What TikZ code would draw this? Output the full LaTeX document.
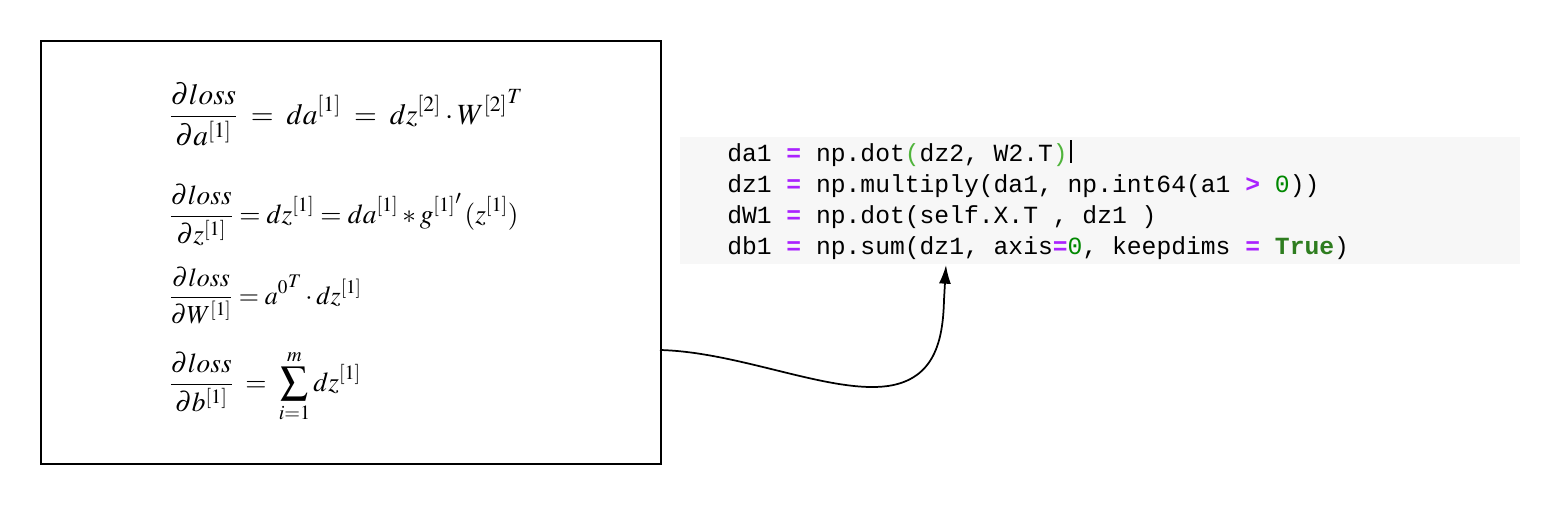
\documentclass[tikz,border=0pt]{standalone}
\usepackage{amsmath}
\usepackage{mathptmx}
\usepackage{fontspec}
\usepackage{tikz}
\usetikzlibrary{arrows.meta}
\newfontfamily\codefont{Liberation Mono}
\definecolor{codegray}{RGB}{247,247,247}
\definecolor{oppurple}{RGB}{170,34,255}
\definecolor{numgreen}{RGB}{0,136,0}
\definecolor{kwgreen}{RGB}{46,125,31}
\definecolor{matchgreen}{RGB}{80,180,60}
\newcommand{\opr}[1]{\textcolor{oppurple}{\textbf{#1}}}
\newcommand{\num}[1]{\textcolor{numgreen}{#1}}
\newcommand{\kw}[1]{\textcolor{kwgreen}{\textbf{#1}}}
\newcommand{\brk}[1]{\textcolor{matchgreen}{#1}}
\tikzset{
  eqline/.style={anchor=base west,inner sep=0.75pt},
  codeline/.style={anchor=base west,inner sep=0pt,font=\codefont\fontsize{18.5}{22}\selectfont},
}

\begin{document}
\begin{tikzpicture}[x=0.75pt,y=0.75pt,yscale=-1,xscale=1]
\useasboundingbox (0,0) rectangle (1560,504);

%Shape: Rectangle [id:eqbox] 
\node (eqbox) [draw,line width=1.4pt,anchor=north west,inner sep=0pt,minimum width=465pt,minimum height=317.25pt] at (40,40) {};
%Shape: Rectangle [id:code] 
\node (code) [fill=codegray,anchor=north west,inner sep=0pt,minimum width=630pt,minimum height=95.25pt] at (680,137) {};

% Text Node
\node (eqa) [eqline] at (168,124) {\fontsize{22}{26}\selectfont $\displaystyle \frac{\partial loss}{\partial a^{[1]}} \;=\; da^{[1]} \;=\; dz^{[2]}\cdot {W^{[2]}}^{T}$};
% Text Node
\node (eqb) [eqline] at (168,223) {\fontsize{20.5}{24}\selectfont $\displaystyle \frac{\partial loss}{\partial z^{[1]}} = dz^{[1]} = da^{[1]} * {g^{[1]}}'\,(z^{[1]})$};
% Text Node
\node (eqc) [eqline] at (168,304) {\fontsize{19.5}{22}\selectfont $\displaystyle \frac{\partial loss}{\partial W^{[1]}} = {a^{0}}^{T}\cdot dz^{[1]}$};
% Text Node
\node (eqd) [eqline] at (168,391) {\fontsize{20.5}{24}\selectfont $\displaystyle \frac{\partial loss}{\partial b^{[1]}} \;=\; \sum_{i=1}^{m} dz^{[1]}$};

% Text Node
\node (lna) [codeline] at (727,161) {da1 \opr{=} np.dot\brk{(}dz2, W2.T\brk{)}};
% Text Node
\node (lnb) [codeline] at (727,192) {dz1 \opr{=} np.multiply(da1, np.int64(a1 \opr{>} \num{0}))};
% Text Node
\node (lnc) [codeline] at (727,223) {dW1 \opr{=} np.dot(self.X.T , dz1 )};
% Text Node
\node (lnd) [codeline] at (727,254) {db1 \opr{=} np.sum(dz1, axis\opr{=}\num{0}, keepdims \opr{=} \kw{True})};

%Straight Lines [id:cursor] 
\draw [line width=0.9pt] (1071,140) -- (1071,163) ;

%Curve Lines [id:link] 
\coordinate (linkfrom) at (660,350);
\coordinate (linkto) at (946,265);
\draw [line width=1.3pt,-{Latex[length=14pt,width=9pt]}] (linkfrom) .. controls (740,352) and (830,394) .. (888,386) .. controls (935,379) and (943,340) .. (944,300) -- (linkto) ;

\end{tikzpicture}
\end{document}
